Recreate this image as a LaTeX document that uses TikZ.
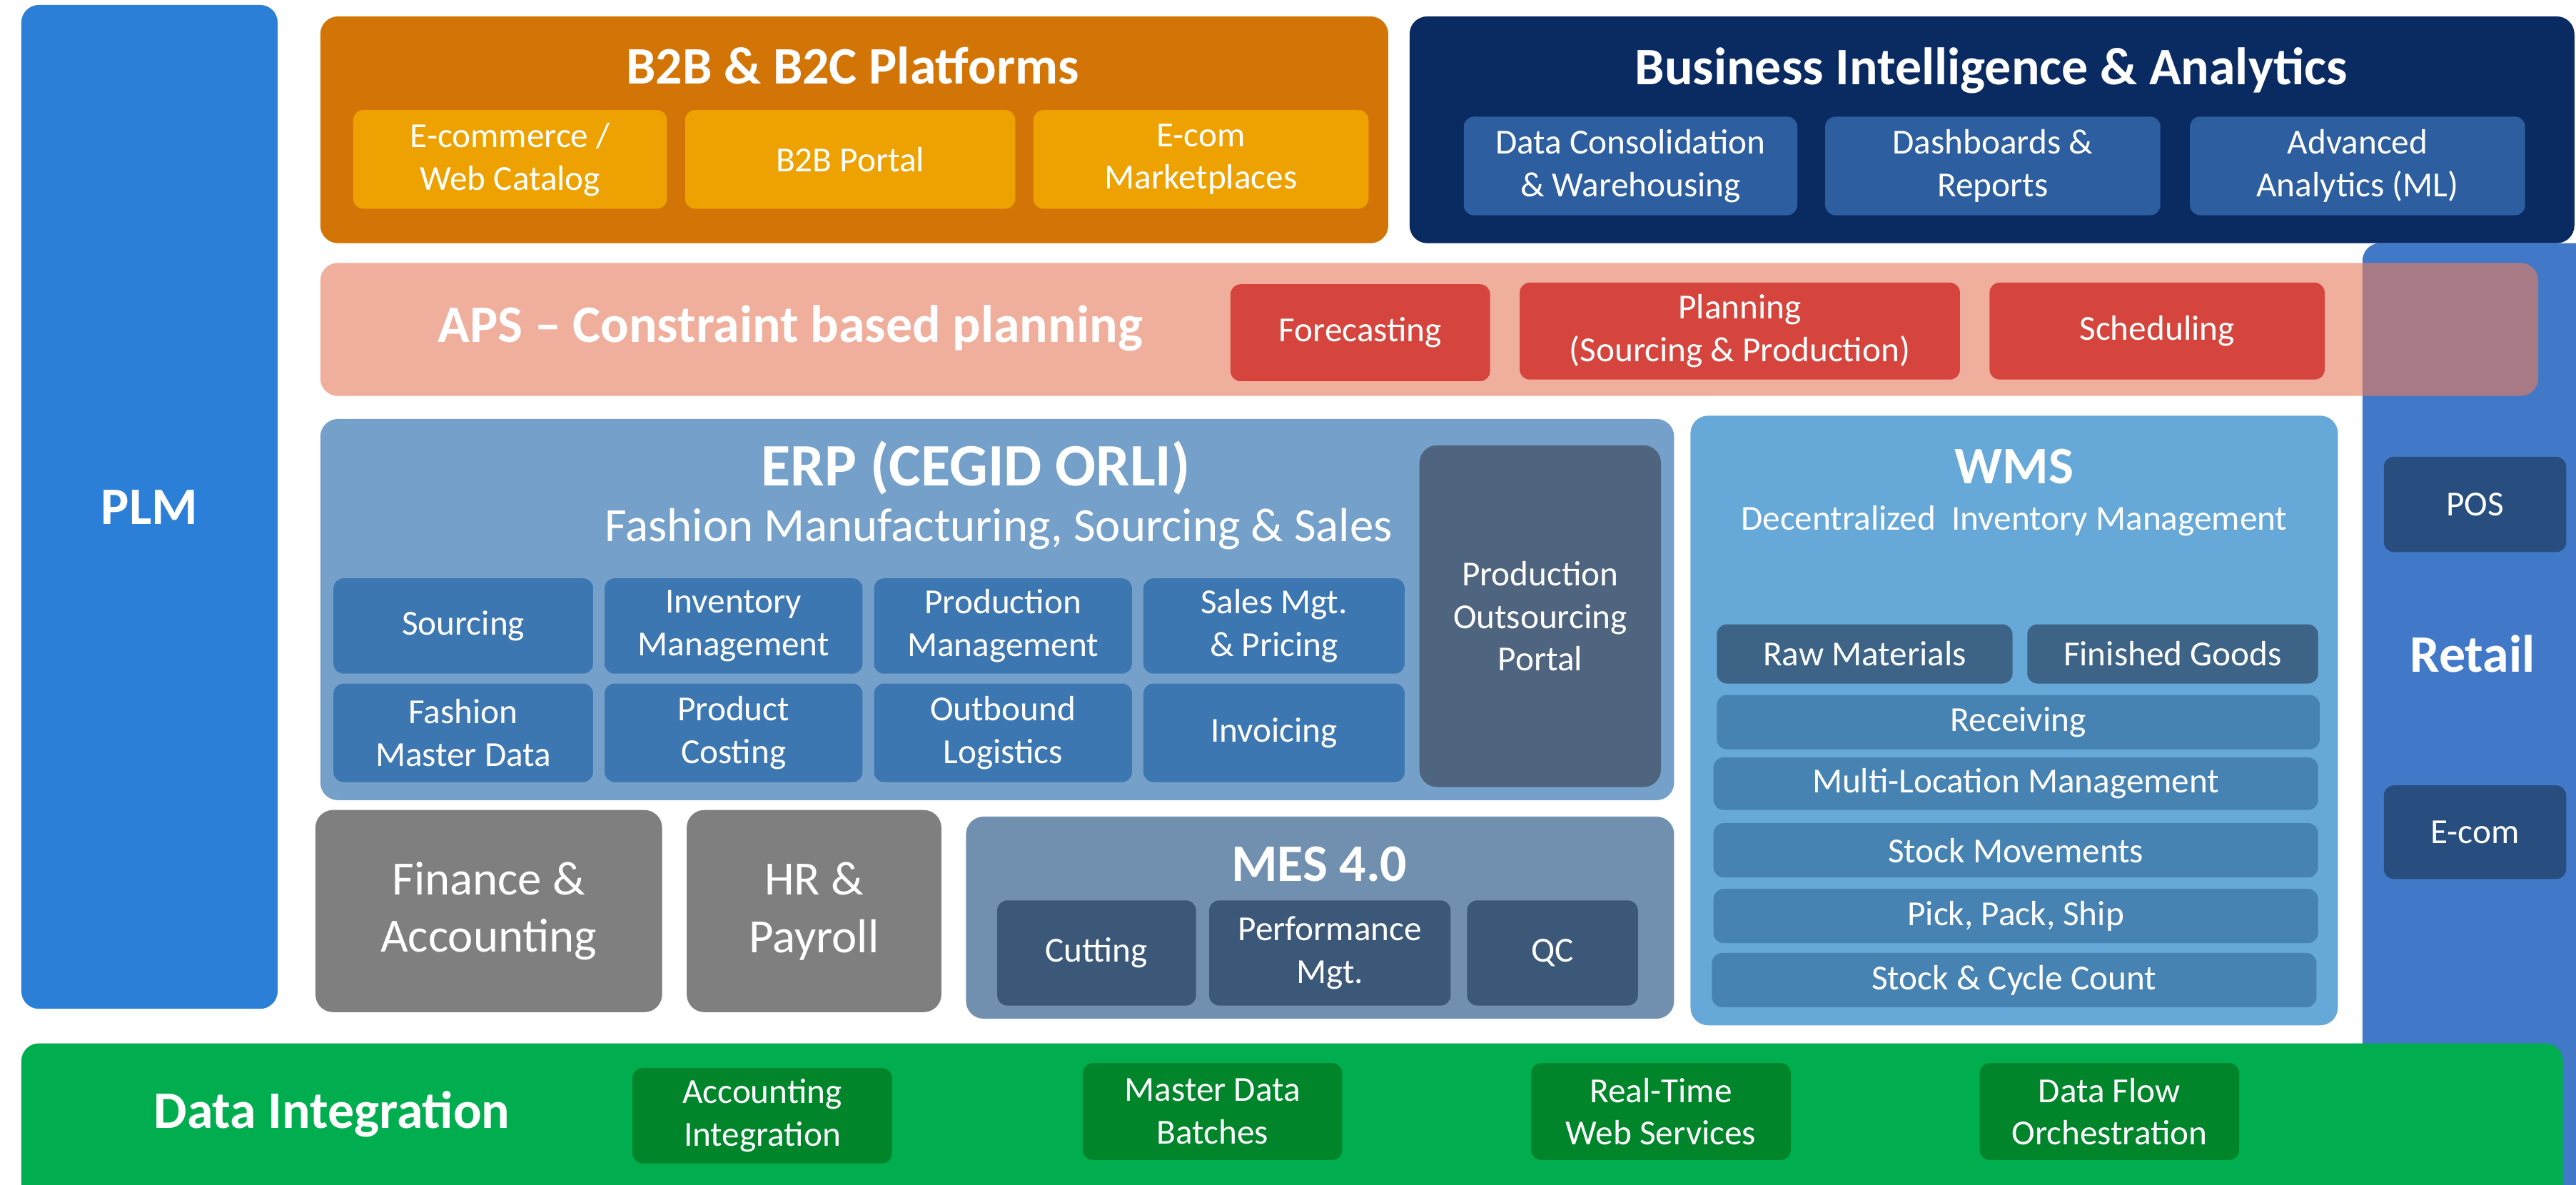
\documentclass[tikz,border=0pt]{standalone}
\usepackage{fontspec}
\setmainfont{Carlito}
\usetikzlibrary{fit}

\definecolor{plmblue}{HTML}{2B7FD6}
\definecolor{b2bdark}{HTML}{D37506}
\definecolor{b2blight}{HTML}{EEA201}
\definecolor{bidark}{HTML}{0A2A62}
\definecolor{bilight}{HTML}{2D5E9F}
\definecolor{retailblue}{HTML}{4179C8}
\definecolor{retaildark}{HTML}{284E80}
\definecolor{apspink}{RGB}{231,124,95}
\definecolor{apsred}{HTML}{D5453D}
\definecolor{erpblue}{HTML}{74A0C9}
\definecolor{erpitem}{HTML}{3D77B1}
\definecolor{portalgray}{HTML}{4F647E}
\definecolor{wmsblue}{HTML}{66A8D8}
\definecolor{wmsdark}{HTML}{3D6486}
\definecolor{wmsrow}{HTML}{4683B2}
\definecolor{backgray}{HTML}{7F7F7F}
\definecolor{mesblue}{HTML}{7190B0}
\definecolor{mesitem}{HTML}{3C5878}
\definecolor{intgreen}{HTML}{00AE4F}
\definecolor{intdark}{HTML}{00852A}

\newcommand{\partfont}{\fontsize{14}{17}\selectfont}
\newcommand{\headfont}{\fontsize{21}{25}\bfseries\selectfont}
\newcommand{\subheadfont}{\fontsize{19}{23}\selectfont}

\begin{document}
\begin{tikzpicture}[x=0.023017cm, y=-0.023017cm,
    % Styles
    panel/.style={rounded corners=7pt, inner sep=0pt},
    part/.style={rounded corners=4pt, inner sep=0pt},
    every label/.style={text=white, align=center, font=\partfont, inner sep=0pt},
    heading/.style={text=white, font=\headfont, inner sep=0pt},
]
\useasboundingbox (0,0) rectangle (1568,721);

% PLM column
\node[panel, fill=plmblue, fit={(13,3) (169,614)}, label={[font=\headfont]center:PLM}] (plm) {};

% Retail column (behind APS)
\node[panel, fill=retailblue, fit={(1438,148) (1600,760)}] (retail) {};
\node[heading] (retailtitle) at (1505,398) {Retail};
\node[part, fill=retaildark, fit={(1451,278) (1562,336)}, label=center:POS] (pos) {};
\node[part, fill=retaildark, fit={(1451,478) (1562,535)}, label=center:E-com] (retailecom) {};

% B2B & B2C
\node[panel, fill=b2bdark, fit={(195,10) (845,148)}] (b2b) {};
\node[heading] (b2btitle) at (519,40) {B2B \& B2C Platforms};
\node[part, fill=b2blight, fit={(215,67) (406,127)}, label={center:{E-commerce /\\Web Catalog}}] (webcat) {};
\node[part, fill=b2blight, fit={(417,67) (618,127)}, label={center:{B2B Portal}}] (b2bportal) {};
\node[part, fill=b2blight, fit={(629,67) (833,127)}, label={center:{E-com\\Marketplaces}}] (market) {};

% Business Intelligence
\node[panel, fill=bidark, fit={(858,10) (1567,148)}] (bi) {};
\node[heading] (bititle) at (1212,43) {Business Intelligence \& Analytics};
\node[part, fill=bilight, fit={(891,71) (1094,131)}, label={center:{Data Consolidation\\\& Warehousing}}] (dwh) {};
\node[part, fill=bilight, fit={(1111,71) (1315,131)}, label={center:{Dashboards \&\\Reports}}] (dash) {};
\node[part, fill=bilight, fit={(1333,71) (1537,131)}, label={center:{Advanced\\Analytics (ML)}}] (ml) {};

% APS band
\node[panel, fill=apspink, fill opacity=0.62, fit={(195,160) (1545,241)}] (aps) {};
\node[heading] (apstitle) at (481,200) {APS -- Constraint based planning};
\node[part, fill=apsred, fit={(749,173) (907,232)}, label=center:Forecasting] (forecast) {};
\node[part, fill=apsred, fit={(925,172) (1193,231)}, label={center:{Planning\\(Sourcing \& Production)}}] (plan) {};
\node[part, fill=apsred, fit={(1211,172) (1415,231)}, label=center:Scheduling] (sched) {};

% ERP
\node[panel, fill=erpblue, fit={(195,255) (1019,487)}] (erp) {};
\node[heading, font=\fontsize{24}{28}\bfseries\selectfont] (erptitle) at (594,285) {ERP (CEGID ORLI)};
\node[text=white, font=\subheadfont, inner sep=0pt] (erpsub) at (608,322) {Fashion Manufacturing, Sourcing \& Sales};
\node[part, fill=erpitem, fit={(203,352) (361,410)}, label=center:Sourcing] (sourcing) {};
\node[part, fill=erpitem, fit={(368,352) (525,410)}, label={center:{Inventory\\Management}}] (inventory) {};
\node[part, fill=erpitem, fit={(532,352) (689,410)}, label={center:{Production\\Management}}] (production) {};
\node[part, fill=erpitem, fit={(696,352) (855,410)}, label={center:{Sales Mgt.\\\& Pricing}}] (sales) {};
\node[part, fill=erpitem, fit={(203,416) (361,476)}, label={center:{Fashion\\Master Data}}] (masterdata) {};
\node[part, fill=erpitem, fit={(368,416) (525,476)}, label={center:{Product\\Costing}}] (costing) {};
\node[part, fill=erpitem, fit={(532,416) (689,476)}, label={center:{Outbound\\Logistics}}] (outbound) {};
\node[part, fill=erpitem, fit={(696,416) (855,476)}, label=center:Invoicing] (invoicing) {};
\node[panel, fill=portalgray, fit={(864,271) (1011,479)}, label={center:{Production\\Outsourcing\\Portal}}] (outsourcing) {};

% WMS
\node[panel, fill=wmsblue, fit={(1029,253) (1423,624)}] (wms) {};
\node[heading] (wmstitle) at (1226,284) {WMS};
\node[text=white, font=\partfont, inner sep=0pt] (wmssub) at (1226,317) {Decentralized\ \ Inventory Management};
\node[part, fill=wmsdark, fit={(1045,380) (1225,416)}, label={center:{Raw Materials}}] (raw) {};
\node[part, fill=wmsdark, fit={(1234,380) (1411,416)}, label={center:{Finished Goods}}] (finished) {};
\node[part, fill=wmsrow, fit={(1045,423) (1412,456)}, label=center:Receiving] (receiving) {};
\node[part, fill=wmsrow, fit={(1043,461) (1411,493)}, label={center:{Multi-Location Management}}] (multiloc) {};
\node[part, fill=wmsrow, fit={(1043,501) (1411,534)}, label={center:{Stock Movements}}] (moves) {};
\node[part, fill=wmsrow, fit={(1043,541) (1411,574)}, label={center:{Pick, Pack, Ship}}] (pps) {};
\node[part, fill=wmsrow, fit={(1042,580) (1410,613)}, label={center:{Stock \& Cycle Count}}] (count) {};

% Back office
\node[panel, fill=backgray, fit={(192,493) (403,616)}, label={[font=\subheadfont]center:{Finance \&\\Accounting}}] (finance) {};
\node[panel, fill=backgray, fit={(418,493) (573,616)}, label={[font=\subheadfont]center:{HR \&\\Payroll}}] (hr) {};

% MES
\node[panel, fill=mesblue, fit={(588,497) (1019,620)}] (mes) {};
\node[heading] (mestitle) at (803,526) {MES 4.0};
\node[part, fill=mesitem, fit={(607,548) (728,612)}, label=center:Cutting] (cutting) {};
\node[part, fill=mesitem, fit={(736,548) (883,612)}, label={center:{Performance\\Mgt.}}] (perf) {};
\node[part, fill=mesitem, fit={(893,548) (997,612)}, label=center:QC] (qc) {};

% Data Integration
\node[panel, fill=intgreen, fit={(13,635) (1560,740)}] (integ) {};
\node[heading] (integtitle) at (202,678) {Data Integration};
\node[part, fill=intdark, fit={(385,650) (543,708)}, label={center:{Accounting\\Integration}}] (accint) {};
\node[part, fill=intdark, fit={(659,647) (817,706)}, label={center:{Master Data\\Batches}}] (mdbatch) {};
\node[part, fill=intdark, fit={(932,647) (1090,706)}, label={center:{Real-Time\\Web Services}}] (rtws) {};
\node[part, fill=intdark, fit={(1205,647) (1363,706)}, label={center:{Data Flow\\Orchestration}}] (dflow) {};

\end{tikzpicture}
\end{document}
